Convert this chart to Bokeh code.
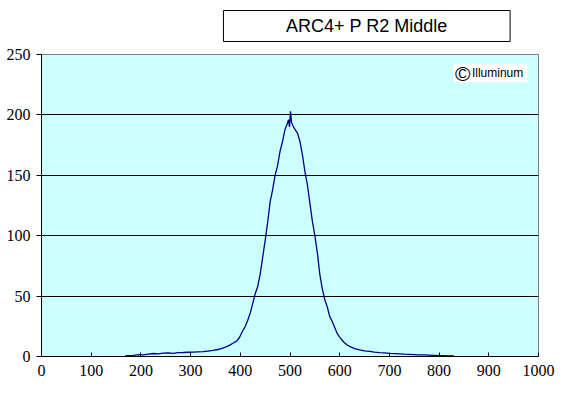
from bokeh.plotting import figure
from bokeh.models import Range1d, FixedTicker, BoxAnnotation, Label
from bokeh.layouts import column
from bokeh.embed import file_html
from bokeh.resources import INLINE

title_text = "ARC4+ P R2 Middle"
credit_symbol = "\u00a9"
credit_text = "Illuminum"
x_ticks = [0, 100, 200, 300, 400, 500, 600, 700, 800, 900, 1000]
y_ticks = [0, 50, 100, 150, 200, 250]

pos = [168, 175, 185, 195, 205, 215, 225, 235, 245, 255, 265, 275, 285, 295, 305,
       315, 325, 335, 345, 355, 362, 370, 378, 385, 392, 398, 404, 410, 415, 420,
       425, 430, 435, 440, 445, 450, 455, 460, 465, 470, 475, 480, 485, 490, 494,
       497, 499, 501, 503, 506, 510, 515, 520, 525, 530, 535, 540, 545, 550, 555,
       560, 565, 570, 575, 580, 585, 590, 595, 600, 608, 615, 622, 630, 640, 650,
       660, 670, 680, 690, 700, 710, 720, 730, 740, 750, 760, 770, 780, 790, 800,
       810, 820, 830]
counts = [0.5, 0.8, 1.0, 1.5, 1.4, 2.0, 2.5, 2.2, 2.8, 3.0, 2.6, 3.2, 3.3, 3.5, 3.6,
          3.8, 4.0, 4.5, 5.0, 5.8, 6.5, 7.8, 9.2, 11.0, 12.5, 15.5, 20.5, 25, 30, 36,
          44, 52, 58, 68, 82, 96, 111, 128, 138, 150, 158, 170, 178, 188, 192,
          196, 190, 203, 194, 191, 188, 185, 178, 167, 153, 142, 127, 112, 100, 86,
          68, 56, 47, 41, 33, 29, 24, 19, 16, 12, 9.5, 8, 6.5, 5.5, 4.6,
          4.2, 3.6, 3.2, 3.0, 2.6, 2.4, 2.2, 1.9, 1.8, 1.6, 1.4, 1.3, 1.2, 1.0, 0.8,
          0.7, 0.6, 0.4]

W = 560

# title strip
t = figure(width=W, height=44, x_range=Range1d(0, W), y_range=Range1d(0, 44),
           output_backend="svg", toolbar_location=None,
           min_border_left=0, min_border_right=0, min_border_top=0, min_border_bottom=0)
t.axis.visible = False
t.grid.visible = False
t.outline_line_color = None
t.quad(left=[205], right=[528], bottom=[3], top=[34], fill_color="white",
       line_color="black", line_width=1)
t.text(x=[366.5], y=[18.5], text=[title_text], text_align="center",
       text_baseline="middle", text_font_size="18px", text_color="black",
       text_font={"value": "Liberation Sans"})

p = figure(width=W, height=344, x_range=Range1d(0, 1000), y_range=Range1d(0, 250),
           output_backend="svg", toolbar_location=None,
           min_border_left=41, min_border_right=22, min_border_top=10, min_border_bottom=32)
p.background_fill_color = "#CCFFFF"
p.border_fill_color = "white"
p.outline_line_color = "#808080"
p.outline_line_width = 1

p.xgrid.visible = False
p.ygrid.ticker = FixedTicker(ticks=y_ticks)
p.ygrid.grid_line_color = "black"
p.ygrid.grid_line_width = 1

p.xaxis.ticker = FixedTicker(ticks=x_ticks)
p.yaxis.ticker = FixedTicker(ticks=y_ticks)
for ax in (p.xaxis[0], p.yaxis[0]):
    ax.axis_line_color = "black"
    ax.major_tick_line_color = "black"
    ax.minor_tick_line_color = None
    ax.major_label_text_font = "Liberation Sans Narrow"
    ax.major_label_text_font_size = "16px"
    ax.major_label_text_color = "black"
p.xaxis.major_tick_in = 4
p.xaxis.major_tick_out = 0
p.xaxis.major_label_standoff = 8
p.yaxis.major_tick_in = 0
p.yaxis.major_tick_out = 5
p.yaxis.major_label_standoff = 6

p.line(pos, counts, line_color="#000080", line_width=1.3)

p.add_layout(BoxAnnotation(left=829, right=978, bottom=227, top=242,
                           fill_color="white", fill_alpha=1, line_color=None))
p.add_layout(Label(x=832, y=234.5, text=credit_symbol, text_font_size="21px",
                   text_baseline="middle", text_color="black",
                   text_font="Liberation Sans"))
p.add_layout(Label(x=866, y=234.5, text=credit_text, text_font_size="12px",
                   text_baseline="middle", text_color="black",
                   text_font="Liberation Sans"))

layout = column(t, p, spacing=0)
open("out.html", "w").write(file_html(layout, INLINE))
